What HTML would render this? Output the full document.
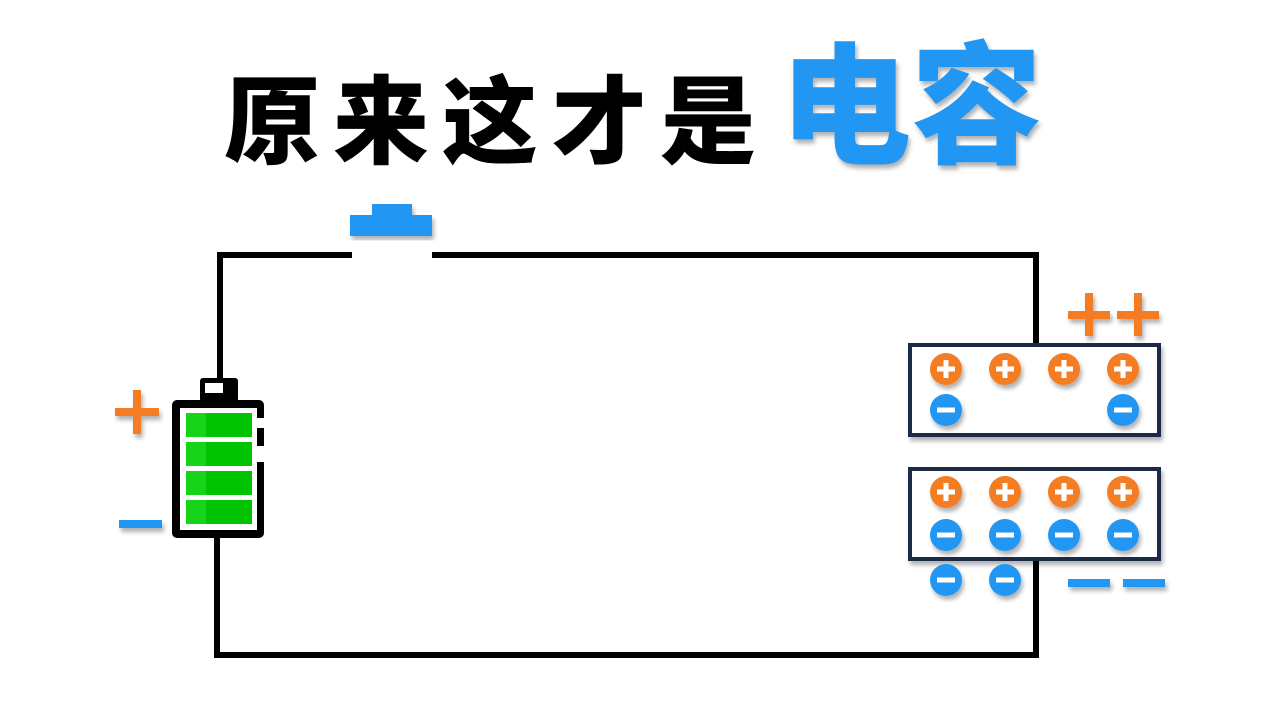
<!DOCTYPE html>
<html><head><meta charset="utf-8"><style>body{margin:0;background:#fff}svg{display:block}</style></head>
<body>
<svg width="1280" height="720" viewBox="0 0 1280 720" xmlns="http://www.w3.org/2000/svg">
<defs>
<filter id="sh" x="-10%" y="-10%" width="130%" height="130%"><feDropShadow dx="2" dy="4" stdDeviation="2" flood-color="#000" flood-opacity="0.3"/></filter>
<g id="pl"><circle r="16" fill="#f47b20" filter="url(#sh)"/><rect x="-9" y="-2.5" width="18" height="5" fill="#fff"/><rect x="-2.5" y="-9" width="5" height="18" fill="#fff"/></g>
<g id="mi"><circle r="16" fill="#2196f3" filter="url(#sh)"/><rect x="-9" y="-2.5" width="18" height="5" fill="#fff"/></g>
</defs>
<text x="224" y="156" font-family="'Noto Sans CJK SC',sans-serif" font-weight="900" font-size="96" textLength="532" lengthAdjust="spacing" fill="#000">原来这才是</text>
<text x="780" y="153" font-family="'Noto Sans CJK SC',sans-serif" font-weight="900" font-size="132" textLength="262" lengthAdjust="spacingAndGlyphs" fill="#2196f3" filter="url(#sh)">电容</text>
<!-- switch -->
<rect x="372" y="204" width="40" height="12" fill="#2196f3" filter="url(#sh)"/>
<rect x="350" y="215" width="82" height="21" fill="#2196f3" filter="url(#sh)"/>
<!-- wires -->
<g fill="none" stroke="#000" stroke-width="6">
<polyline points="220,382 220,255 352,255"/>
<polyline points="432,255 1036,255 1036,344"/>
<polyline points="217,535 217,655 1036,655 1036,560"/>
</g>
<!-- battery -->
<rect x="200" y="378" width="38" height="24" fill="#000" rx="3"/>
<rect x="205" y="383" width="18" height="10" fill="#fff"/>
<rect x="172" y="400" width="92" height="138" rx="5" fill="#000"/>
<rect x="180" y="408" width="77" height="122" fill="#fff"/>
<rect x="255" y="418" width="12" height="10" fill="#fff"/>
<rect x="255" y="446" width="12" height="16" fill="#fff"/>
<g fill="#00c400">
<rect x="186" y="413" width="66" height="24"/><rect x="186" y="442" width="66" height="24"/><rect x="186" y="471" width="66" height="24"/><rect x="186" y="500" width="66" height="24"/>
</g>
<g fill="#18d418"><rect x="186" y="413" width="20" height="24"/><rect x="186" y="442" width="20" height="24"/><rect x="186" y="471" width="20" height="24"/><rect x="186" y="500" width="20" height="24"/></g>
<g filter="url(#sh)">
<rect x="115" y="408" width="44" height="8" fill="#f47b20"/><rect x="133" y="390" width="8" height="44" fill="#f47b20"/>
<rect x="119" y="520" width="43" height="8" fill="#2196f3"/>
<rect x="1068" y="311" width="42" height="8" fill="#f47b20"/><rect x="1085" y="293" width="8" height="43" fill="#f47b20"/>
<rect x="1117" y="311" width="42" height="8" fill="#f47b20"/><rect x="1134" y="293" width="8" height="43" fill="#f47b20"/>
<rect x="1068" y="579" width="42" height="8" fill="#2196f3"/><rect x="1123" y="579" width="42" height="8" fill="#2196f3"/>
</g>
<!-- capacitor plates -->
<rect x="910" y="345" width="249" height="90" fill="#fff" stroke="#1c2b4a" stroke-width="4" filter="url(#sh)"/>
<rect x="910" y="469" width="249" height="90" fill="#fff" stroke="#1c2b4a" stroke-width="4" filter="url(#sh)"/>
<use href="#pl" x="946" y="369"/><use href="#pl" x="1005" y="369"/><use href="#pl" x="1064" y="369"/><use href="#pl" x="1123" y="369"/>
<use href="#mi" x="946" y="410"/><use href="#mi" x="1123" y="410"/>
<use href="#pl" x="946" y="492"/><use href="#pl" x="1005" y="492"/><use href="#pl" x="1064" y="492"/><use href="#pl" x="1123" y="492"/>
<use href="#mi" x="946" y="535"/><use href="#mi" x="1005" y="535"/><use href="#mi" x="1064" y="535"/><use href="#mi" x="1123" y="535"/>
<use href="#mi" x="946" y="580"/><use href="#mi" x="1005" y="580"/>
</svg>
</body></html>
